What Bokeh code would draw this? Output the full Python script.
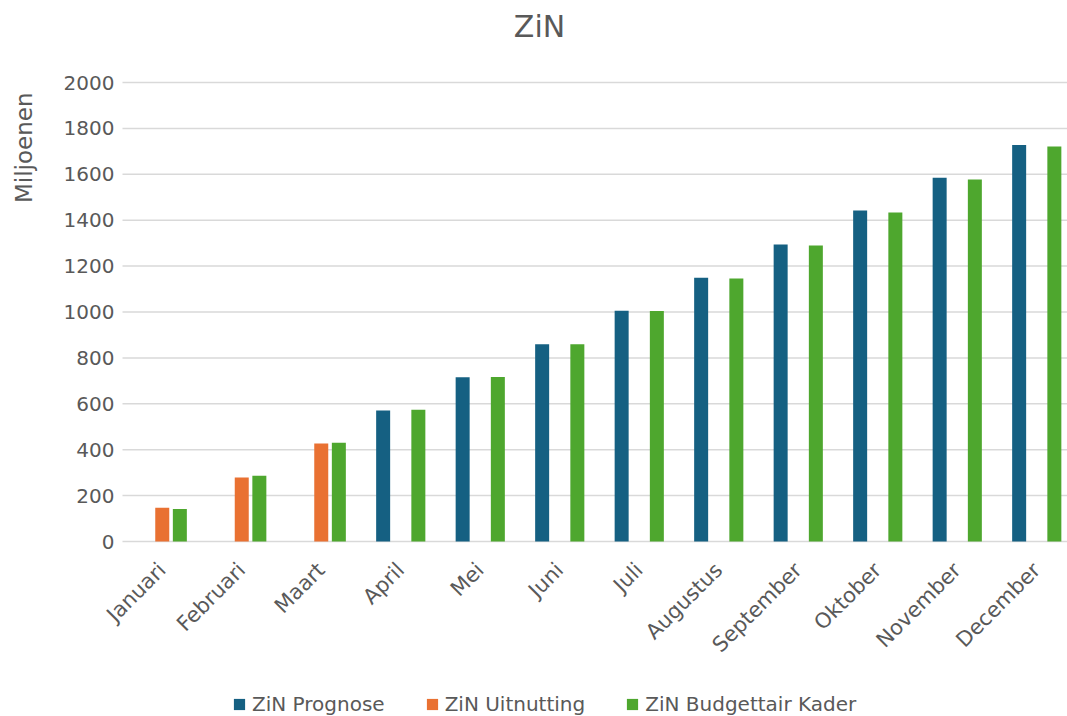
import math
from bokeh.plotting import figure
from bokeh.models import (ColumnDataSource, Range1d, FixedTicker, Legend, LegendItem, Label)
from bokeh.transform import dodge
from bokeh.embed import file_html
from bokeh.resources import INLINE

months = ["Januari", "Februari", "Maart", "April", "Mei", "Juni", "Juli",
          "Augustus", "September", "Oktober", "November", "December"]
prognose = [None, None, None, 571, 716, 860, 1005, 1149, 1294, 1442, 1585, 1728]
uitnutting = [147, 279, 427, None, None, None, None, None, None, None, None, None]
kader = [142, 286, 430, 574, 717, 860, 1004, 1146, 1290, 1434, 1577, 1721]
y_ticks = [0, 200, 400, 600, 800, 1000, 1200, 1400, 1600, 1800, 2000]

C_BLUE = "#156082"
C_ORANGE = "#E97132"
C_GREEN = "#4EA72E"
TXT = "#595959"
GRID = "#d9d9d9"
FONT = "DejaVu Sans"

def make_source(vals):
    xs = [i + 0.5 for i, v in enumerate(vals) if v is not None]
    ys = [v for v in vals if v is not None]
    return ColumnDataSource(dict(x=xs, top=ys))

# layout in pixels (whole canvas is the frame; axes are pinned at 0)
W, H = 1067, 716
AX_X, AX_Y, TOP_Y = 122, 541, 82      # pixel of y-axis, of value 0, of value 2000
cat_px = 79.5
val_px = (AX_Y - TOP_Y) / max(y_ticks)

p = figure(width=W, height=H, output_backend="svg", toolbar_location=None,
           x_range=Range1d(-AX_X / cat_px, (W - AX_X) / cat_px),
           y_range=Range1d(-(H - AX_Y) / val_px, AX_Y / val_px),
           min_border=0)
p.title.visible = False
p.outline_line_color = None
p.background_fill_color = "white"
p.border_fill_color = "white"
p.xgrid.visible = False
p.ygrid.visible = False

# horizontal gridlines at the y ticks, starting at the axis
grid_src = ColumnDataSource(dict(y=y_ticks))
p.segment(x0=0, x1=(W - AX_X) / cat_px, y0="y", y1="y", source=grid_src,
          line_color=GRID, line_width=1.5)

bw = 14 / cat_px
off = 17.6 / cat_px
r1 = p.vbar(x=dodge("x", -off, range=p.x_range), top="top", bottom=0, width=bw,
            source=make_source(prognose), fill_color=C_BLUE, line_color=None)
r2 = p.vbar(x=dodge("x", 0, range=p.x_range), top="top", bottom=0, width=bw,
            source=make_source(uitnutting), fill_color=C_ORANGE, line_color=None)
r3 = p.vbar(x=dodge("x", off, range=p.x_range), top="top", bottom=0, width=bw,
            source=make_source(kader), fill_color=C_GREEN, line_color=None)

# axes pinned at data 0
p.yaxis.fixed_location = 0
p.yaxis.ticker = FixedTicker(ticks=y_ticks)
p.yaxis.axis_line_color = None
p.yaxis.major_tick_line_color = None
p.yaxis.minor_tick_line_color = None
p.yaxis.major_tick_out = 0
p.yaxis.major_tick_in = 0
p.yaxis.major_label_standoff = 8
p.yaxis.major_label_text_font = FONT
p.yaxis.major_label_text_font_size = "20px"
p.yaxis.major_label_text_color = TXT

p.xaxis.fixed_location = 0
p.xaxis.ticker = FixedTicker(ticks=[i + 0.5 for i in range(len(months))])
p.xaxis.major_label_overrides = {i + 0.5: m for i, m in enumerate(months)}
p.xaxis.major_label_orientation = math.pi / 4
p.xaxis.axis_line_color = None
p.xaxis.major_tick_line_color = None
p.xaxis.minor_tick_line_color = None
p.xaxis.major_tick_out = 0
p.xaxis.major_tick_in = 0
p.xaxis.major_label_standoff = 25
p.xaxis.major_label_text_font = FONT
p.xaxis.major_label_text_font_size = "21px"
p.xaxis.major_label_text_color = TXT

# chart title and y-axis title
p.add_layout(Label(x=539, y=H - 26, x_units="screen", y_units="screen", text="ZiN",
                   text_align="center", text_baseline="middle", text_font=FONT,
                   text_font_size="30px", text_color=TXT))
p.add_layout(Label(x=23, y=H - 92, x_units="screen", y_units="screen", text="Miljoenen",
                   angle=math.pi / 2, text_align="right", text_baseline="middle",
                   text_font=FONT, text_font_size="23px", text_color=TXT))

legend = Legend(items=[LegendItem(label="ZiN Prognose", renderers=[r1]),
                       LegendItem(label="ZiN Uitnutting", renderers=[r2]),
                       LegendItem(label="ZiN Budgettair Kader", renderers=[r3])],
                orientation="horizontal", location=(232, 0),
                glyph_width=14, glyph_height=14, label_standoff=6, spacing=40,
                padding=0, margin=0, border_line_color=None,
                background_fill_alpha=0, label_text_font=FONT,
                label_text_font_size="20px", label_text_color=TXT)
p.add_layout(legend, "center")

open("out.html", "w").write(file_html(p, INLINE))
